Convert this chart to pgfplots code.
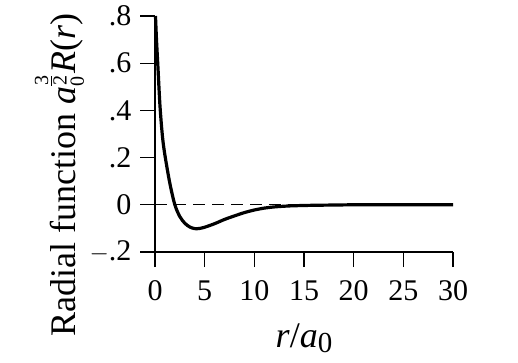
\documentclass[border=0pt]{standalone}
\usepackage{amsmath}
\usepackage{fontspec}
\setmainfont{Liberation Serif}
\usepackage{pgfplots}
\pgfplotsset{compat=1.18}
\newcommand{\fr}[1]{\mbox{\fontsize{20}{22}\selectfont #1}}
\begin{document}
\begin{tikzpicture}
\useasboundingbox (-155pt,-110pt) rectangle (363pt,252pt);
\begin{axis}[
  at={(0,0)}, anchor=south west,
  scale only axis, width=298pt, height=236pt,
  xmin=0, xmax=30, ymin=-0.2, ymax=0.8,
  enlargelimits=false, clip=false,
  axis lines=left,
  axis line style={-, line width=1.3pt, black},
  every tick/.style={black, line width=1.3pt},
  major tick length=15pt,
  tick align=outside,
  xtick={0,5,...,30}, xticklabels={0,5,10,15,20,25,30},
  ytick={-0.2,0,0.2,0.4,0.6,0.8}, yticklabels={$-$.2,0,.2,.4,.6,.8},
  tick label style={font=\fontsize{30}{36}\selectfont},
  xticklabel style={yshift=-10pt},
  yticklabel style={xshift=-5pt},
  xlabel={\textit{r}/\textit{a}\raisebox{-5pt}{\fontsize{29}{34}\selectfont 0}},
  xlabel style={at={(axis description cs:0.5,-0.4026)}, anchor=base, inner sep=0pt, font=\fontsize{36}{40}\selectfont},
  ylabel={Radial function \textit{a}$_{\fr{0}}^{\frac{\fr{3}}{\fr{2}}}$\textit{R}(\textit{r})},
  ylabel style={at={(axis description cs:-0.268,-0.36)}, anchor=base west, inner sep=0pt, rotate=0, font=\fontsize{36}{40}\selectfont},
]
\addplot[black, line width=1.2pt, dash pattern=on 12pt off 7pt] coordinates {(0,0) (30,0)};
\addplot[black, line width=3.2pt, smooth, tension=0.5] coordinates {
(0.05,0.80) (0.15,0.70) (0.3,0.58) (0.5,0.42) (0.75,0.29) (1.0,0.21)
(1.5,0.09) (2.0,0.0) (2.5,-0.05) (3.0,-0.078) (3.5,-0.094) (4.0,-0.101)
(4.5,-0.100) (5.0,-0.095) (6.0,-0.080) (7.0,-0.062) (8.0,-0.047)
(9.0,-0.033) (10.0,-0.022) (11.0,-0.014) (12.0,-0.009) (13.0,-0.006)
(14.0,-0.004) (16.0,-0.002) (18.0,-0.001) (20,0) (25,0) (30,0)};
\end{axis}
\end{tikzpicture}
\end{document}
